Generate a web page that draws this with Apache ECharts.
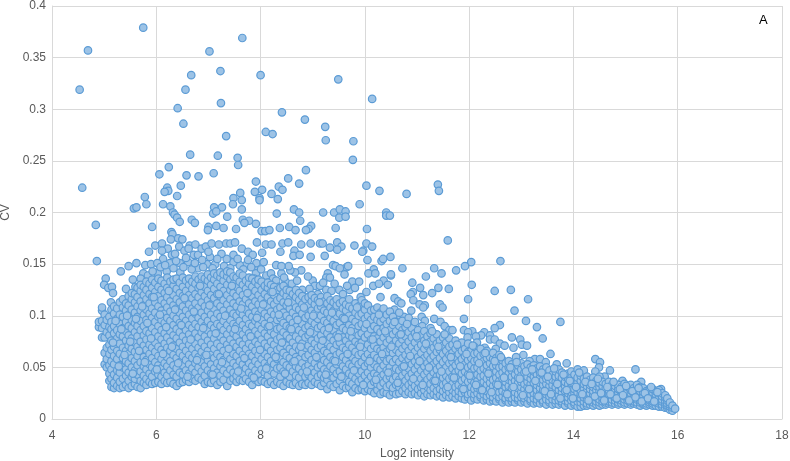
<!DOCTYPE html>
<html>
<head>
<meta charset="utf-8">
<script src="https://cdn.jsdelivr.net/npm/echarts@6/dist/echarts.min.js"></script>
<style>
  html, body { margin: 0; padding: 0; background: #fff; }
  #chart { width: 790px; height: 461px; }
</style>
</head>
<body>
<div id="chart"></div>
<script>
// sparse points above the dense cloud, read one by one: [log2 intensity, cv]
var topPoints = [[4.53,.319],[4.69,.357],[5.75,.379],[7.65,.369],[7.02,.356],[6.67,.333],[7.23,.337],[8,.333],[9.49,.329],[10.14,.31],[6.56,.319],[6.41,.301],[7.24,.306],[8.41,.297],[6.52,.286],[8.85,.29],[9.24,.283],[9.25,.27],[9.78,.269],[9.77,.251],[8.1,.278],[8.23,.276],[7.34,.274],[6.65,.256],[7.18,.255],[7.56,.253],[7.57,.246],[6.24,.244],[6.06,.237],[6.58,.236],[6.81,.235],[7.1,.238],[8.87,.241],[8.53,.233],[4.58,.224],[7.91,.23],[8.74,.228],[10.03,.226],[8.35,.225],[8.42,.222],[8.03,.222],[7.89,.22],[8.21,.218],[7.61,.219],[10.28,.221],[6.21,.224],[6.23,.221],[6.16,.22],[6.47,.226],[6.4,.216],[5.78,.215],[7.98,.214],[7.48,.214],[7.64,.212],[7.98,.212],[8.33,.213],[5.81,.208],[5.57,.204],[5.62,.205],[6.13,.208],[6.27,.206],[7.11,.205],[7.26,.205],[7.47,.208],[7.64,.203],[9.9,.208],[6.32,.2],[6.35,.198],[6.4,.195],[6.45,.191],[6.68,.193],[6.74,.19],[7.09,.199],[7.15,.201],[7.36,.196],[7.66,.193],[7.78,.192],[7.69,.19],[7.91,.189],[8.31,.199],[8.64,.203],[8.74,.2],[8.76,.192],[9.2,.2],[9.41,.2],[9.52,.203],[9.63,.201],[9.51,.195],[9.63,.196],[10.41,.2],[10.41,.197],[4.84,.188],[5.92,.186],[7,.186],[7.15,.187],[7.29,.185],[7.53,.184],[8.37,.185],[8.55,.186],[8.67,.183],[8.97,.187],[8.92,.184],[8.87,.183],[9.44,.185],[10.04,.184],[8.02,.182],[8.09,.182],[8.17,.183],[6.99,.183],[6.29,.181],[10.8,.218],[11.4,.227],[11.42,.221],[10.48,.197]];

// middle band, roughly cv 0.13 to 0.18
var midPoints = [[4.86,.153],[6.31,.179],[6.28,.174],[6.42,.175],[6.5,.174],[5.98,.168],[6.11,.17],[6.22,.165],[6.11,.163],[5.86,.162],[6.44,.167],[6.54,.163],[6.64,.168],[6.75,.169],[6.62,.165],[6.3,.159],[6.36,.16],[6.13,.155],[5.79,.149],[5.62,.151],[5.47,.148],[5.32,.143],[5.9,.15],[6.02,.151],[6.26,.151],[6.45,.151],[6.61,.152],[6.72,.159],[6.8,.159],[6.87,.165],[6.95,.167],[7.06,.17],[7.2,.169],[7.34,.17],[7.42,.17],[7.51,.171],[7.64,.165],[7.76,.162],[7.85,.159],[7.93,.171],[8.1,.169],[8.21,.169],[8.03,.161],[8.38,.162],[8.42,.17],[8.53,.171],[8.65,.163],[8.63,.158],[8.75,.159],[8.78,.169],[8.96,.17],[8.96,.157],[9.14,.17],[9.19,.17],[9.23,.158],[9.33,.166],[9.47,.171],[9.55,.167],[9.47,.164],[9.8,.168],[9.97,.163],[10.03,.17],[10.14,.167],[9.95,.162],[10.05,.154],[10.49,.157],[10.32,.153],[10.35,.155],[10.17,.145],[10.07,.141],[10.2,.141],[10.5,.139],[10.36,.134],[10.44,.13],[10.16,.129],[9.39,.149],[9.44,.148],[9.65,.147],[9.52,.146],[9.68,.148],[9.29,.141],[9.26,.137],[9.33,.137],[9.61,.14],[9.76,.133],[9.89,.133],[9,.134],[8.91,.138],[9.04,.129],[9.14,.129],[9.26,.125],[9.51,.125],[9.71,.125],[9.81,.127],[8.8,.125],[8.78,.144],[8.66,.142],[8.57,.144],[8.54,.148],[8.4,.141],[8.3,.149],[8.4,.148],[7.95,.145],[7.92,.151],[7.72,.149],[7.6,.149],[7.91,.141],[8.01,.145],[8.11,.139],[8.2,.141],[8.24,.136],[8.3,.134],[8.48,.133],[7.76,.154],[7.48,.152],[7.48,.159],[7.35,.155],[7.25,.16],[7.13,.15],[6.97,.15],[7.03,.157],[6.8,.146],[6.46,.142],[6.2,.143],[6.03,.141],[5.75,.141],[5.7,.136],[5.55,.135],[5.03,.136],[5,.13],[5.08,.127],[5.15,.128],[5.17,.122],[5.13,.113],
[5.42,.126],[5.6,.128],[5.84,.139],[5.93,.143],[6.08,.147],[6.17,.149],[6.33,.146],[6.38,.153],[6.52,.147],[6.57,.156],[6.68,.145],[6.74,.151],[6.88,.154],[6.9,.147],[7,.162],[7.08,.146],[7.17,.155],[7.3,.148],[7.42,.146],[7.56,.155],[7.67,.145],[7.82,.147],[7.88,.136],[8.06,.152],[8.14,.131],[8.35,.128],[8.45,.137],[8.6,.131],[8.7,.134],[8.82,.119],[8.94,.126],[9.1,.121],[9.2,.132],[9.36,.124],[9.42,.131],[9.58,.121],[9.66,.129],[9.92,.118],[10.03,.123],[10.27,.131],[10.3,.118]];

// sparse points over the falling right part of the cloud
var tailPoints = [[11.59,.173],[12.6,.153],[12.04,.152],[11.92,.148],[11.75,.144],[11.33,.146],[11.47,.141],[10.72,.146],[10.5,.14],[11.17,.138],[12.05,.13],[10.91,.132],[11.06,.127],[11.41,.127],[11.61,.126],[11.29,.122],[10.92,.123],[10.88,.121],[11.12,.12],[12.49,.124],[12.8,.125],[13.13,.116],[11.98,.116],[10.57,.117],[10.93,.115],[10.64,.114],[10.7,.112],[11.05,.111],[11.15,.11],[11.12,.108],[11.44,.111],[11.49,.108],[10.57,.106],[10.89,.105],[12.87,.105],[11.9,.097],[13.09,.095],[13.75,.094],[11.09,.099],[10.75,.099],[10.61,.098],[11.33,.097],[11.45,.094],[11.15,.095],[10.85,.092],[11.1,.09],[11.26,.088],[11.53,.09],[12.59,.091],[12.49,.088],[13.3,.089],[10.96,.087],[11.62,.086],[11.68,.086],[11.9,.086],[12.06,.085],[11.98,.084],[12.29,.084],[12.23,.081],[12.13,.08],[12.4,.081],[11.97,.079],[12.82,.079],[13.41,.078],[12.98,.077],[12.4,.077],[12.15,.074],[12.49,.077],[12.59,.073],[12.68,.071],[13.01,.072],[13.11,.071],[12.85,.069],[12.51,.068],[12.3,.069],[13.56,.063],[13.04,.062],[12.9,.06],[13.26,.058],[13.36,.058],[13.47,.055],[13.16,.056],[13.68,.053],[13.87,.054],[14.42,.058],[14.51,.055],[14.49,.05],[14.42,.046],[14.7,.047],[15.19,.048],[14.6,.041],[14.94,.037],[15.3,.036],[15.68,.029]];

// dense cloud, one row per narrow x slice: [x, cv, cv, ...]
var cloudLeft = [
[4.9,.089,.094],[4.96,.079,.088,.095,.105,.108],[5.01,.053,.064,.079,.091,.101],[5.05,.05,.058,.069,.084,.096],[5.1,.037,.044,.052,.063,.072,.081,.089,.099],
[5.14,.031,.039,.048,.056,.067,.076,.087,.094,.106],[5.19,.03,.035,.043,.053,.061,.07,.083,.09,.102,.109],[5.25,.032,.04,.047,.058,.066,.078,.086,.097,.107],[5.3,.03,.036,.045,.052,.063,.073,.082,.092,.101,.113],[5.36,.031,.039,.05,.059,.069,.08,.088,.099,.108,.116],
[5.42,.033,.042,.048,.056,.066,.076,.085,.094,.105,.112],[5.47,.03,.037,.045,.054,.063,.071,.081,.09,.101,.11,.119],[5.53,.032,.041,.05,.059,.068,.078,.088,.096,.106,.116,.122],[5.59,.034,.039,.047,.056,.065,.074,.084,.093,.103,.113,.121],[5.64,.031,.043,.052,.061,.07,.08,.09,.099,.109,.118,.127],
[5.7,.03,.037,.046,.055,.066,.075,.086,.095,.105,.114,.124,.13],[5.76,.035,.042,.051,.06,.071,.081,.09,.101,.11,.12,.128],[5.81,.033,.039,.048,.057,.067,.077,.085,.096,.106,.116,.125,.133],[5.87,.036,.044,.053,.063,.072,.083,.092,.102,.112,.121,.131],[5.92,.034,.041,.05,.059,.069,.078,.088,.098,.107,.118,.127,.135],
[5.98,.035,.046,.055,.065,.074,.084,.094,.103,.113,.123,.132],[6.04,.036,.043,.052,.061,.07,.08,.09,.099,.109,.119,.128,.136],[6.1,.034,.041,.049,.058,.067,.077,.086,.096,.105,.115,.125,.134],[6.16,.037,.045,.054,.064,.073,.083,.093,.102,.112,.122,.131],[6.21,.035,.042,.051,.06,.069,.079,.089,.098,.108,.118,.127,.137],
[6.27,.036,.047,.056,.066,.075,.085,.095,.104,.114,.124,.133],[6.33,.034,.043,.052,.062,.071,.081,.091,.1,.11,.12,.129,.135],[6.39,.032,.041,.049,.059,.068,.078,.087,.097,.107,.116,.126,.136],[6.45,.035,.045,.055,.064,.074,.084,.093,.103,.113,.122,.132],[6.51,.036,.043,.052,.061,.07,.08,.09,.099,.109,.119,.128,.137],
[6.57,.038,.047,.057,.066,.076,.086,.095,.105,.115,.124,.134],[6.63,.036,.044,.053,.062,.072,.082,.091,.101,.111,.12,.13,.136],[6.69,.039,.049,.059,.068,.078,.088,.097,.107,.117,.126,.133],[6.75,.037,.045,.054,.063,.073,.083,.092,.102,.112,.121,.131,.138],[6.81,.04,.05,.06,.069,.079,.089,.098,.108,.118,.127,.135],
[6.87,.038,.046,.055,.065,.074,.084,.094,.103,.113,.123,.132,.138],[6.93,.034,.042,.051,.061,.07,.08,.09,.099,.109,.119,.128,.136],[6.99,.036,.047,.057,.066,.076,.086,.095,.105,.115,.124,.134,.14],[7.05,.035,.044,.053,.062,.072,.082,.091,.101,.111,.12,.13,.137]
];
var cloudMiddle = [
[7.11,.037,.049,.059,.068,.078,.088,.097,.107,.117,.126,.135,.141],[7.17,.033,.045,.054,.063,.073,.083,.092,.102,.112,.121,.131,.139],[7.23,.036,.042,.051,.06,.07,.08,.09,.099,.109,.119,.128,.137,.142],[7.29,.038,.047,.057,.066,.076,.086,.095,.105,.115,.124,.134,.14],[7.36,.032,.044,.053,.062,.072,.082,.091,.101,.111,.12,.13,.138,.143],
[7.42,.037,.048,.058,.068,.077,.087,.096,.106,.116,.125,.135,.142],[7.48,.039,.045,.054,.063,.073,.083,.092,.102,.112,.122,.131,.138],[7.54,.036,.042,.051,.061,.07,.08,.09,.1,.109,.119,.128,.137],[7.6,.038,.047,.056,.066,.075,.085,.095,.104,.114,.124,.133,.141],[7.66,.037,.044,.053,.062,.072,.082,.091,.101,.111,.12,.13,.139],
[7.72,.039,.049,.058,.068,.078,.087,.097,.106,.116,.126,.134],[7.78,.036,.045,.054,.063,.073,.083,.092,.102,.112,.121,.131,.137],[7.84,.033,.042,.051,.061,.07,.08,.09,.099,.109,.119,.128,.136],[7.9,.038,.047,.056,.066,.075,.085,.095,.104,.114,.124,.133],[7.96,.036,.044,.053,.062,.072,.082,.091,.101,.111,.12,.13,.135],
[8.02,.037,.048,.058,.067,.077,.087,.096,.106,.116,.125,.133],[8.08,.036,.045,.054,.063,.073,.083,.092,.102,.112,.121,.129],[8.14,.034,.042,.051,.06,.07,.08,.089,.099,.109,.118,.127,.132],[8.2,.036,.047,.056,.066,.075,.085,.095,.104,.114,.123,.13],[8.26,.033,.044,.053,.062,.072,.082,.091,.101,.111,.12,.128],
[8.32,.036,.049,.058,.067,.077,.087,.096,.106,.115,.125],[8.38,.034,.041,.05,.059,.069,.079,.088,.098,.108,.117,.127],[8.44,.032,.046,.055,.064,.074,.084,.093,.103,.113,.122,.129],[8.5,.036,.043,.052,.061,.071,.081,.09,.1,.11,.119,.125],[8.56,.034,.041,.05,.059,.068,.078,.088,.097,.107,.116,.124],
[8.62,.033,.046,.055,.065,.074,.084,.093,.103,.113,.121],[8.68,.035,.042,.051,.06,.07,.08,.089,.099,.108,.118,.125],[8.74,.032,.04,.049,.058,.067,.077,.086,.096,.106,.115,.122],[8.8,.034,.045,.054,.064,.073,.083,.092,.102,.111,.119],[8.86,.033,.041,.05,.06,.069,.079,.088,.098,.107,.116],
[8.92,.035,.043,.052,.062,.071,.081,.09,.1,.11,.118],[8.98,.033,.04,.048,.057,.067,.076,.086,.095,.105,.114,.12],[9.04,.036,.045,.054,.064,.073,.083,.092,.102,.111,.117],[9.1,.034,.041,.05,.059,.069,.078,.088,.097,.107,.115],[9.16,.032,.043,.052,.062,.071,.081,.09,.1,.109,.118],
[9.22,.035,.04,.048,.057,.066,.076,.086,.095,.105,.114],[9.28,.029,.038,.046,.055,.064,.074,.083,.093,.103,.112,.119],[9.34,.033,.042,.051,.06,.07,.079,.089,.098,.108,.115],[9.4,.031,.04,.048,.057,.067,.076,.086,.095,.105,.113],[9.46,.034,.044,.053,.062,.072,.081,.091,.1,.11,.116],
[9.52,.028,.037,.046,.055,.064,.074,.083,.093,.102,.112],[9.58,.032,.042,.051,.06,.069,.079,.088,.098,.107,.114],[9.64,.03,.039,.048,.057,.067,.076,.086,.095,.105,.111],[9.7,.031,.036,.044,.053,.062,.072,.081,.091,.1,.109,.116],[9.76,.026,.034,.042,.051,.06,.069,.079,.088,.097,.107],
[9.82,.03,.039,.047,.056,.065,.075,.084,.094,.103,.112],[9.88,.028,.036,.044,.053,.062,.072,.081,.09,.1,.109],[9.94,.029,.038,.046,.055,.064,.074,.083,.092,.102,.115],[10,.027,.034,.042,.051,.06,.069,.079,.088,.097,.106,.112]
];
var cloudRight = [
[10.06,.029,.037,.045,.054,.063,.072,.082,.091,.1,.11],[10.12,.027,.033,.041,.05,.059,.068,.077,.087,.096,.105],[10.18,.025,.036,.044,.053,.062,.071,.08,.09,.099,.106],[10.24,.028,.034,.042,.05,.059,.068,.078,.087,.096,.108],[10.3,.024,.032,.04,.048,.057,.066,.075,.084,.094,.103],
[10.36,.026,.035,.043,.052,.06,.069,.079,.088,.097,.107],[10.42,.025,.031,.039,.047,.056,.065,.074,.083,.092,.101],[10.48,.023,.033,.041,.05,.058,.068,.077,.086,.095,.104],[10.54,.026,.03,.038,.046,.055,.064,.072,.082,.091,.099],[10.6,.024,.033,.041,.049,.058,.067,.076,.085,.094],
[10.66,.025,.031,.038,.047,.055,.064,.073,.081,.09,.103],[10.72,.027,.034,.042,.05,.059,.068,.077,.086,.095],[10.78,.024,.03,.037,.045,.054,.062,.071,.08,.089],[10.84,.026,.033,.041,.049,.058,.066,.075,.084,.098],[10.9,.024,.03,.036,.044,.053,.061,.07,.079,.088],
[10.96,.025,.032,.04,.048,.056,.065,.074,.083,.094],[11.02,.023,.029,.036,.043,.052,.06,.069,.078,.086],[11.08,.025,.031,.039,.047,.055,.064,.072,.081],[11.14,.022,.028,.035,.043,.051,.059,.068,.076,.085],[11.2,.024,.031,.038,.046,.054,.062,.071,.08],
[11.26,.023,.028,.034,.041,.049,.058,.066,.075,.083],[11.32,.024,.03,.037,.045,.053,.061,.069,.078],[11.38,.022,.027,.034,.041,.048,.056,.065,.073,.082],[11.44,.023,.029,.036,.043,.051,.059,.067,.076],[11.5,.021,.027,.033,.04,.047,.055,.063,.071,.079],
[11.56,.023,.029,.035,.042,.05,.058,.066,.074],[11.62,.021,.026,.032,.039,.046,.054,.062,.07,.078],[11.68,.022,.028,.034,.041,.049,.056,.064,.072],[11.74,.02,.025,.031,.038,.045,.052,.06,.068,.076],[11.8,.022,.027,.033,.04,.047,.055,.063,.07],
[11.86,.02,.025,.03,.037,.044,.051,.058,.066,.074],[11.92,.019,.026,.032,.039,.046,.053,.061,.068],[11.98,.021,.024,.03,.036,.043,.05,.057,.065,.073],[12.04,.018,.025,.031,.038,.045,.052,.059,.066],[12.1,.02,.024,.029,.035,.042,.049,.056,.063,.07],
[12.16,.019,.025,.03,.037,.043,.05,.057,.064],[12.22,.021,.023,.028,.034,.041,.047,.054,.061,.068],[12.28,.018,.024,.03,.036,.042,.049,.056,.063],[12.34,.019,.022,.027,.033,.039,.046,.052,.059,.066],[12.4,.017,.023,.029,.035,.041,.047,.054,.06],
[12.46,.018,.021,.027,.032,.038,.045,.051,.058,.064],[12.52,.017,.023,.028,.034,.04,.046,.052,.059],[12.58,.019,.021,.026,.032,.037,.043,.05,.056,.062],[12.64,.016,.022,.027,.033,.039,.045,.051,.057],[12.7,.018,.02,.025,.031,.036,.042,.048,.054],
[12.76,.016,.021,.027,.032,.038,.044,.05,.056],[12.82,.017,.02,.025,.03,.036,.041,.047,.053],[12.88,.016,.021,.026,.032,.037,.043,.049],[12.94,.018,.02,.024,.03,.035,.04,.046,.052],[13,.016,.021,.026,.031,.036,.042,.048,.054],
[13.06,.017,.02,.024,.029,.034,.04,.045,.051],[13.12,.015,.021,.026,.031,.036,.041,.047,.053],[13.18,.017,.019,.024,.029,.034,.039,.044,.05],[13.24,.015,.02,.025,.03,.035,.041,.046,.052],[13.3,.016,.019,.023,.028,.033,.038,.043,.049],
[13.36,.015,.02,.025,.03,.035,.04,.045,.051],[13.42,.016,.018,.023,.028,.033,.038,.043,.048],[13.48,.014,.019,.024,.029,.034,.039,.044,.05],[13.54,.016,.018,.022,.027,.032,.037,.042,.047],[13.6,.014,.019,.024,.029,.033,.038,.043],
[13.66,.015,.018,.022,.026,.031,.036,.041,.046],[13.72,.014,.018,.023,.028,.033,.037,.042,.048],[13.78,.015,.017,.021,.026,.03,.035,.04,.045],[13.84,.013,.018,.022,.027,.032,.036,.041],[13.9,.015,.017,.021,.025,.03,.034,.039,.044],
[13.96,.013,.018,.022,.026,.031,.035,.04,.046],[14.02,.014,.016,.02,.025,.029,.034,.038,.043],[14.08,.012,.017,.021,.026,.03,.035,.04,.048],[14.14,.012,.016,.02,.024,.028,.033,.037,.042],[14.2,.013,.017,.021,.025,.029,.034,.039,.047],
[14.26,.013,.015,.019,.023,.027,.032,.036,.041],[14.32,.014,.017,.02,.025,.029,.033,.038],[14.38,.013,.016,.019,.023,.027,.031,.036,.04],[14.44,.014,.017,.021,.024,.028,.032,.037],[14.5,.013,.016,.019,.023,.027,.031,.035,.041],
[14.56,.014,.017,.02,.024,.028,.032,.036],[14.62,.014,.016,.019,.022,.026,.03,.034],[14.68,.015,.017,.021,.024,.028,.031,.036],[14.74,.014,.016,.019,.023,.026,.03,.033],[14.8,.015,.018,.021,.024,.028,.032],
[14.86,.014,.016,.019,.022,.026,.029,.033],[14.92,.015,.018,.021,.024,.027,.031],[14.98,.014,.016,.019,.022,.025,.029,.034],[15.04,.015,.018,.021,.024,.027,.031],[15.1,.014,.016,.019,.022,.025,.028,.033],
[15.16,.015,.017,.02,.023,.026,.03],[15.22,.014,.016,.019,.022,.025,.028,.033],[15.28,.013,.016,.018,.021,.024,.027,.031],[15.34,.014,.015,.018,.021,.023,.026,.03],[15.4,.013,.015,.018,.02,.023,.027],
[15.46,.014,.016,.018,.021,.024,.028],[15.52,.013,.015,.017,.02,.023,.026,.029],[15.58,.013,.016,.018,.021,.024,.027],[15.64,.012,.015,.017,.02,.022,.025,.028],[15.7,.012,.014,.017,.019,.022,.025],
[15.76,.011,.014,.016,.018,.021,.023],[15.8,.011,.013,.015,.018,.02],[15.85,.009,.012,.014,.016],[15.9,.008,.011,.013],[15.95,.01]
];

// loose points on top of the slices, the cloud is not a tidy lattice in the picture
var cloudLoose = [[5.17,.074],[5.22,.095],[5.28,.051],[5.33,.087],[5.39,.062],[5.44,.1],[5.5,.075],[5.55,.044],[5.61,.097],[5.67,.066],[5.73,.109],[5.78,.055],[5.83,.093],[5.9,.078],[5.95,.118],[6.01,.048],[6.07,.101],[6.13,.063],[6.19,.089],[6.24,.124],[6.3,.07],[6.36,.106],[6.42,.054],[6.48,.091],[6.54,.117],[6.6,.041],[6.66,.077],[6.72,.104],[6.78,.057],[6.84,.129],[6.9,.088],[6.96,.062],[7.02,.11],[7.08,.043],[7.14,.083],[7.2,.121],[7.26,.055],[7.32,.1],[7.39,.068],[7.45,.129],[7.51,.087],[7.57,.046],[7.63,.107],[7.69,.059],[7.75,.122],[7.81,.08],[7.87,.04],[7.93,.098],[7.99,.067],[8.05,.111],[8.11,.049],[8.17,.09],[8.23,.123],[8.29,.06],[8.35,.101],[8.41,.074],[8.47,.044],[8.53,.113],[8.59,.087],[8.65,.056],[8.71,.096],[8.77,.07],[8.83,.108],[8.89,.046],[8.95,.084],[9.01,.1],[9.07,.06],[9.13,.113],[9.19,.076],[9.25,.043],[9.31,.088],[9.37,.103],[9.43,.056],[9.49,.079],[9.55,.041],[9.61,.097],[9.67,.063],[9.73,.085],[9.79,.047],[9.85,.108],[9.91,.07],[9.97,.033],[10.03,.092],[10.09,.056],[10.15,.077],[10.21,.038],[10.27,.101],[10.33,.063],[10.39,.085],[10.45,.045],[10.51,.07],[10.57,.094],[10.63,.035],[10.69,.082],[10.75,.051],[10.81,.092],[10.87,.061],[10.93,.039],[10.99,.08],[11.05,.056],[11.11,.033],[11.17,.073],[11.23,.05],[11.29,.085],[11.35,.037],[11.41,.07],[11.47,.046],[11.53,.082],[11.59,.031],[11.65,.06],[11.71,.04],[11.77,.072],[11.83,.051],[11.89,.029],[11.95,.063],[12.01,.042],[12.07,.071],[12.13,.033],[12.19,.054],[12.25,.028],[12.31,.064],[12.37,.044],[12.43,.026],[12.49,.056],[12.55,.033],[12.61,.06],[12.67,.04],[12.73,.024],[12.79,.05],[12.85,.031],[12.91,.055],[12.97,.039],[13.03,.023],[13.09,.046],[13.15,.029],[13.21,.048],[13.27,.037],[13.33,.022],[13.39,.045],[13.45,.027],[13.51,.041],[13.57,.024],[13.63,.049],[13.69,.034],[13.75,.02],[13.81,.043],[13.87,.028],[13.93,.037],[13.99,.02],[14.05,.031],[14.11,.045],[14.17,.024],[14.23,.036],[14.29,.018],[14.35,.034],[14.41,.022],[14.47,.039],[14.53,.025],[14.59,.018],[14.65,.031],[14.71,.024],[14.77,.036],[14.83,.02],[14.89,.029],[14.95,.023],[15.01,.032],[15.07,.018],[15.13,.027],[15.19,.021],[15.25,.03],[15.31,.017],[15.37,.025],[15.43,.02],[15.49,.031],[15.55,.017],[15.61,.026]];

// flatten [x, cv, cv...] rows into [x, cv] pairs for the scatter series
function rowsToPairs(rows) {
  var out = [];
  for (var i = 0; i < rows.length; i++) {
    for (var j = 1; j < rows[i].length; j++) {
      out.push([rows[i][0], rows[i][j]]);
    }
  }
  return out;
}

var allPoints = topPoints.concat(midPoints, tailPoints, rowsToPairs(cloudLeft), rowsToPairs(cloudMiddle), rowsToPairs(cloudRight), cloudLoose);

var chart = echarts.init(document.getElementById("chart"), null, { renderer: "canvas" });
var labelFont = "Liberation Sans";
var gridLine = { show: true, lineStyle: { color: "#D9D9D9", width: 1 } };

chart.setOption({
  animation: false,
  backgroundColor: "#fff",
  title: {
    text: "A",
    left: 759,
    top: 14,
    padding: 0,
    textStyle: { color: "#000", fontSize: 13, fontWeight: "normal", fontFamily: labelFont }
  },
  grid: { left: 52, right: 8, top: 6, bottom: 42, outerBoundsMode: "none" },
  xAxis: {
    type: "value",
    min: 4,
    max: 18,
    interval: 2,
    name: "Log2 intensity",
    nameLocation: "middle",
    nameGap: 29,
    nameTextStyle: { color: "#595959", fontSize: 12, fontFamily: labelFont },
    axisLine: { show: true, onZero: false, lineStyle: { color: "#D9D9D9" } },
    axisTick: { show: false },
    axisLabel: { color: "#595959", fontSize: 12, fontFamily: labelFont, margin: 11, showMaxLabel: true, showMinLabel: true },
    splitLine: gridLine
  },
  yAxis: {
    type: "value",
    min: 0,
    max: 0.4,
    interval: 0.05,
    name: "CV",
    nameLocation: "middle",
    nameGap: 37,
    nameTextStyle: { color: "#595959", fontSize: 12, fontFamily: labelFont },
    axisLine: { show: true, lineStyle: { color: "#D9D9D9" } },
    axisTick: { show: false },
    axisLabel: { color: "#595959", fontSize: 12, fontFamily: labelFont, margin: 6 },
    splitLine: gridLine
  },
  series: [
    {
      type: "scatter",
      symbol: "circle",
      symbolSize: 7.5,
      itemStyle: { color: "#9DC3E6", borderColor: "#5B9BD5", borderWidth: 1.2, opacity: 1 },
      data: allPoints
    }
  ]
});
</script>
</body>
</html>
